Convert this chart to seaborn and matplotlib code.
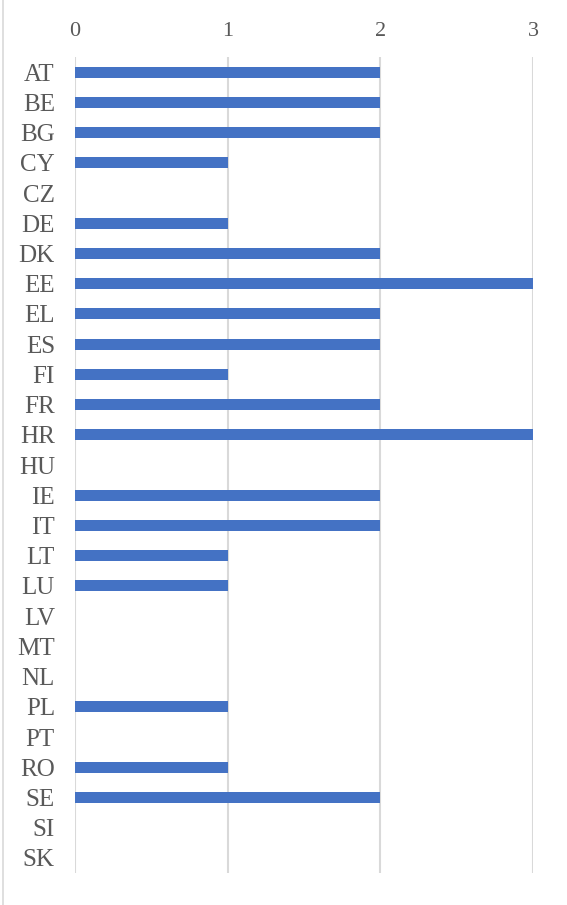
import matplotlib
matplotlib.use("Agg")
import matplotlib.pyplot as plt
import seaborn as sns
import pandas as pd
from matplotlib.lines import Line2D

countries = ["AT", "BE", "BG", "CY", "CZ", "DE", "DK", "EE", "EL", "ES", "FI", "FR", "HR",
             "HU", "IE", "IT", "LT", "LU", "LV", "MT", "NL", "PL", "PT", "RO", "SE", "SI", "SK"]
counts = [2, 2, 2, 1, 0, 1, 2, 3, 2, 2, 1, 2, 3,
          0, 2, 2, 1, 1, 0, 0, 0, 1, 0, 1, 2, 0, 0]
x_ticks = [0, 1, 2, 3]

sns.set_style("white")
plt.rcParams["font.family"] = ["Liberation Serif", "DejaVu Serif"]

df = pd.DataFrame({"country": countries, "count": counts})

fig = plt.figure(figsize=(5.67, 9.05), dpi=100)
ax = fig.add_axes([75 / 567, 1 - 873 / 905, (533 - 75) / 567, (873 - 57) / 905])

sns.barplot(data=df, x="count", y="country", orient="h", color="#4472C4",
            saturation=1, width=0.36, linewidth=0, ax=ax, zorder=3)

ax.set_xlim(0, 3)
ax.set_xticks(x_ticks)
ax.xaxis.tick_top()
ax.xaxis.grid(True, color="#d9d9d9", linewidth=1.5, zorder=0)
ax.set_axisbelow(True)
for s in ax.spines.values():
    s.set_visible(False)
ax.tick_params(axis="x", length=0, pad=11.5, labelsize=16, labelcolor="#595959")
ax.tick_params(axis="y", length=0, pad=14.5, labelsize=18, labelcolor="#595959")
ax.set_xlabel("")
ax.set_ylabel("")

fig.add_artist(Line2D([0.005, 0.005], [0, 1], transform=fig.transFigure,
                      color="#d9d9d9", linewidth=1.2))

fig.savefig("out.png", dpi=100)
